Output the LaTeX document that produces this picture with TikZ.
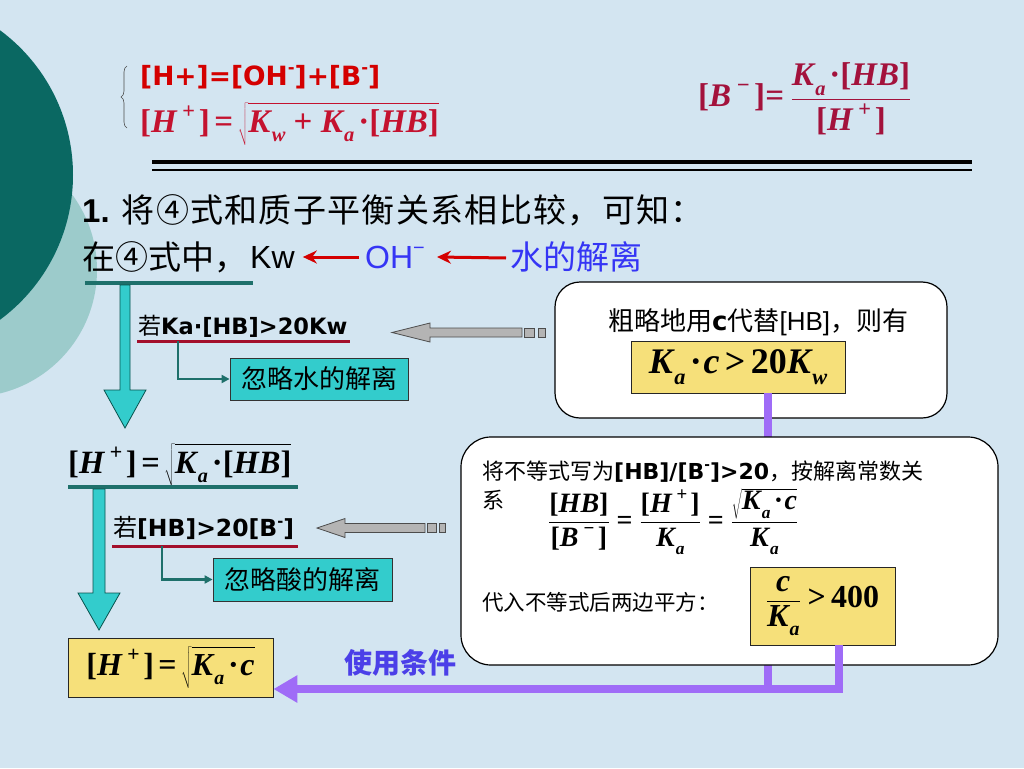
\documentclass[tikz,border=0pt]{standalone}
\usepackage{fontspec}
\usepackage{graphicx}
\setmainfont{Liberation Serif}
\newfontfamily\cjk{Noto Sans CJK SC}
\newfontfamily\cjkw{Noto Sans CJK SC}[LetterSpace=4]
\newfontfamily\vb{DejaVu Sans}
\newfontfamily\ar{Liberation Sans}
\newfontfamily\tms{Liberation Serif}
\usetikzlibrary{arrows.meta,decorations.pathreplacing}
\definecolor{bgblue}{HTML}{D3E5F1}
\definecolor{darkteal}{HTML}{0A6862}
\definecolor{lightteal}{HTML}{9CCBCB}
\definecolor{lineteal}{HTML}{1E706B}
\definecolor{cyanfill}{HTML}{33CCCC}
\definecolor{yel}{HTML}{F6E07A}
\definecolor{purp}{HTML}{9F6CF7}
\definecolor{grayfill}{HTML}{B4B4B4}
\definecolor{redA}{HTML}{D40000}
\definecolor{redB}{HTML}{C4122F}
\definecolor{redC}{HTML}{A3123C}
\definecolor{ulred}{HTML}{A3102C}
\definecolor{blueT}{HTML}{3535F5}
\definecolor{blueB}{HTML}{4B3FE8}
\newcommand\fm{\tms\bfseries\itshape}
\newcommand\lb{{\upshape[}}
\newcommand\rb{{\upshape]}}
\newcommand\sps[1]{\raisebox{0.42em}{\scalebox{0.62}{#1}}}
\newcommand\spi[1]{\kern0.16em\raisebox{0.42em}{\scalebox{0.68}{#1}}\kern0.12em}
\newcommand\sbs[1]{\kern0.04em\raisebox{-0.3em}{\scalebox{0.62}{#1}}}
\newcommand\dotm{\kern0.12em{\upshape\textperiodcentered}}
\newcommand\eqs{\kern0.14em{\upshape =}\kern0.14em}
\newcommand\beq{\mathrel{\hbox{\tms\bfseries =}}}
\newcommand\rt[1]{$\sqrt{\vrule height 0.78em depth 0.34em width 0pt\hbox{\fm #1}}$}
\newcommand\rts[1]{$\sqrt{\hbox{\fm #1}}$}
\tikzset{
  tealline/.style={draw=lineteal, line width=4pt},
  redline/.style={draw=ulred, line width=3pt},
  elbowarrow/.style={draw=lineteal, line width=2.5pt, -{Triangle[length=8pt,width=8pt]}},
  cyanbox/.style={draw=black!80, line width=0.8pt, fill=cyanfill, inner sep=0pt, font=\fontsize{26}{26}\selectfont\cjk},
  ybox/.style={draw=black!85, line width=0.8pt, fill=yel, inner sep=0pt},
  rbox/.style={draw=black, line width=1.2pt, fill=white, rounded corners=25pt},
  blockarrow/.style={fill=cyanfill, draw=darkteal!80!black, line width=0.8pt},
  grayarrow/.style={fill=grayfill, draw=black!70, line width=0.8pt},
  purpline/.style={draw=purp, line width=8pt},
  redarrow/.style={draw=redA, line width=3pt, -{Stealth[length=14pt,width=13pt]}},
  txt/.style={inner sep=0pt, anchor=base west}
}
\begin{document}
\begin{tikzpicture}[x=1pt,y=-1pt]
\useasboundingbox (0,0) rectangle (1024,768);
\fill[bgblue] (0,0) rectangle (1024,768);
\begin{scope}
\clip (0,0) rectangle (1024,768);
\fill[lightteal] (-30,270) circle (127pt);
\fill[darkteal] (-107,175) circle (180pt);
\end{scope}

% top formulas
\draw[black!70, line width=0.6pt, decorate, decoration={brace, amplitude=6pt}] (127,128) -- (127,66);
\node[txt, redA] (f1) at (140,85) {\fontsize{26.5}{26.5}\selectfont\vb\bfseries [H+]=[OH\sps{-}]+[B\sps{-}]};
\node[txt, redB] (f2) at (140,132) {\fontsize{33}{33}\selectfont\fm \lb H\spi{+}\rb\eqs\rt{K\sbs{w}\kern0.25em{\upshape +}\kern0.25em K\sbs{a}\dotm\lb HB\rb}};
\node[txt, redC] (f3) at (698,106) {\fontsize{33}{33}\selectfont\fm \lb B\spi{−}\rb$\beq\displaystyle{\hbox{\fm K\sbs{a}\dotm\lb HB\rb}\above 1.2pt \hbox{\fm\lb H\spi{+}\rb}}$};

\draw[line width=3.5pt] (152,162) -- (972,162);
\draw[line width=1.2pt] (152,170) -- (972,170);

% text lines
\node[txt] (l1) at (82,222) {\fontsize{33}{33}\selectfont{\ar\bfseries 1.}\hspace{12pt}{\cjkw 将④式和质子平衡关系相比较，可知：}};
\node[txt] (l2) at (82,269) {\fontsize{33}{33}\selectfont\cjk 在④式中，};
\node[txt] (kw) at (250,268) {\fontsize{32}{32}\selectfont\ar Kw};
\node[txt, blueT] (oh) at (365,268) {\fontsize{32}{32}\selectfont\ar OH\sps{−}};
\node[txt, blueT] (water) at (510,269) {\fontsize{33}{33}\selectfont\cjk 水的解离};
\draw[redarrow] ([yshift=11pt]oh.base west) ++(-6pt,0) -- ([yshift=11pt,xshift=8pt]kw.base east);
\draw[redarrow] ([yshift=11pt,xshift=-4pt]water.base west) -- ([yshift=11pt,xshift=12pt]oh.base east);

\draw[tealline] (85,283) -- (253,283);
\filldraw[blockarrow] (120,285) -- (130,285) -- (130,390) -- (146,390) -- (125,428) -- (104,390) -- (120,390) -- cycle;

% first condition
\node[txt] (c1) at (138,334) {{\fontsize{23}{23}\selectfont\cjk 若}{\fontsize{22.5}{22.5}\selectfont\vb\bfseries Ka\textperiodcentered[HB]>20Kw}};
\draw[redline] (137,341) -- (350,341);
\coordinate (u1) at (178,341);
\node[cyanbox, minimum width=178pt, minimum height=42pt] (box1) at (319,379) {忽略水的解离};
\draw[elbowarrow] (u1) |- (box1.west);
\filldraw[grayarrow] (392,332.5) -- (430,323) -- (430,328) -- (522,328) -- (522,337) -- (430,337) -- (430,342) -- cycle;
\filldraw[grayarrow] (524.5,328) rectangle (534,337);
\filldraw[grayarrow] (538,328) rectangle (545,337);

% rounded box 1
\node[rbox, minimum width=392pt, minimum height=136pt] (rb1) at (751,350) {};
\node[txt] (t1) at (608,330) {\fontsize{26}{26}\selectfont\cjk 粗略地用{\vb\bfseries c}代替{\ar [HB]}，则有};
\node[ybox, minimum width=214pt, minimum height=52pt] (y1) at (738,367) {\fontsize{36}{36}\selectfont\fm K\sbs{a}\dotm\kern0.05em c\kern0.15em{\upshape >}\kern0.15em{\upshape 20}K\sbs{w}};

% final box (needed for the purple connector)
\node[ybox, minimum width=205pt, minimum height=59pt] (hfinal) at (170.5,667.5) {\fontsize{32}{32}\selectfont\fm\lb H\spi{+}\rb\eqs\rt{K\sbs{a}\dotm\kern0.05em c}};

\coordinate (p1) at ([xshift=30pt]y1.south);
\draw[purpline] (p1) -- (p1 |- 0,693);

% rounded box 2
\node[rbox, rounded corners=30pt, minimum width=537pt, minimum height=228pt] (rb2) at (729.5,551) {};
\node[txt] (t2) at (482,479) {\fontsize{22}{22}\selectfont\cjk 将不等式写为{\vb\bfseries [HB]/[B\sps{-}]>20}，按解离常数关};
\node[txt] (t3) at (482,508) {\fontsize{22}{22}\selectfont\cjk 系};
\node[txt] (eq) at (548,529) {\fontsize{28}{28}\selectfont $\displaystyle{\hbox{\fm\lb HB\rb}\above 1pt\hbox{\fm\lb B\spi{−}\rb}}\beq{\hbox{\fm\lb H\spi{+}\rb}\above 1pt\hbox{\fm K\sbs{a}}}\beq{\hbox{\rts{K\sbs{a}\dotm\kern0.05em c}}\above 1pt\hbox{\fm K\sbs{a}}}$};
\node[txt] (t4) at (482,610) {\fontsize{21.5}{21.5}\selectfont\cjk 代入不等式后两边平方：};
\node[ybox, minimum width=145pt, minimum height=78pt] (y2) at (822.5,606) {\fontsize{32}{32}\selectfont $\displaystyle{\hbox{\fm c}\above 1pt\hbox{\fm K\sbs{a}}}\mathrel{\hbox{\tms\bfseries >\,400}}$};

\draw[purpline, line join=miter, -{Triangle[length=24pt,width=26pt]}] ([xshift=16pt]y2.south) |- ([yshift=-21.5pt]hfinal.east);
\node[blueB, font=\fontsize{28}{28}\selectfont\cjk\bfseries, inner sep=0pt] (use) at (400,663) {使用条件};

% middle
\node[txt] (hmid) at (68,473) {\fontsize{32.5}{32.5}\selectfont\fm\lb H\spi{+}\rb\eqs\rt{K\sbs{a}\dotm\lb HB\rb}};
\draw[tealline] (68,487) -- (298,487);
\filldraw[blockarrow] (93,489) -- (105,489) -- (105,593) -- (120,593) -- (99,630) -- (78,593) -- (93,593) -- cycle;

\node[txt] (c2) at (113,536) {{\fontsize{24}{24}\selectfont\cjk 若}{\fontsize{23.5}{23.5}\selectfont\vb\bfseries [HB]>20[B\sps{-}]}};
\draw[redline] (112,546) -- (298,546);
\coordinate (u2) at (162,546);
\node[cyanbox, minimum width=179pt, minimum height=43pt] (box2) at (302.5,579.5) {忽略酸的解离};
\draw[elbowarrow] (u2) |- (box2.west);
\filldraw[grayarrow] (317,528) -- (345,518.5) -- (345,523.5) -- (425,523.5) -- (425,532.5) -- (345,532.5) -- (345,537.5) -- cycle;
\filldraw[grayarrow] (427,523.5) rectangle (436,532.5);
\filldraw[grayarrow] (439,523.5) rectangle (445,532.5);
\end{tikzpicture}
\end{document}
